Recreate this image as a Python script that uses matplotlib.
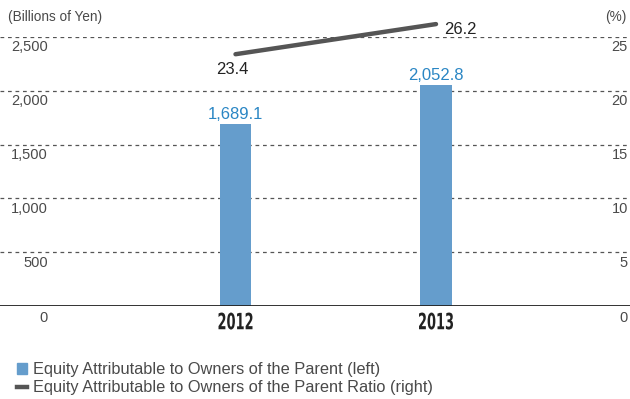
import matplotlib.pyplot as plt
from matplotlib.transforms import blended_transform_factory, Affine2D
from matplotlib.lines import Line2D
from matplotlib.patches import Patch, PathPatch
from matplotlib.textpath import TextPath
from matplotlib.font_manager import FontProperties

plt.rcParams['font.family'] = ['Liberation Sans', 'DejaVu Sans']

# data
years = ['2012', '2013']
equity = [1689.1, 2052.8]
ratio = [23.4, 26.2]
left_ticks = [500, 1000, 1500, 2000, 2500]
right_ticks = [5, 10, 15, 20, 25]

bar_color = '#659dcc'
label_blue = '#2a86c4'
line_color = '#555555'
text_gray = '#4a4a4a'

fig = plt.figure(figsize=(6.3, 3.99), dpi=100)
ax = fig.add_axes([0, 93 / 399, 1, 269 / 399])
ax2 = ax.twinx()

x = list(range(len(years)))
ax.set_xlim(-1.1746, 1.9676)
ax.set_ylim(0, 2500)
ax2.set_ylim(0, 25)

for a in (ax, ax2):
    for s in a.spines.values():
        s.set_visible(False)
    a.set_xticks([])
    a.set_yticks([])

bars = ax.bar(x, equity, width=0.155, color=bar_color, zorder=2)

# gridlines
for v in left_ticks:
    ax.axhline(v, color='#555555', lw=0.9, ls=(0, (3, 3)), zorder=1)
ax.axhline(0, color='#222222', lw=1.3, zorder=3)

# tick labels
tl = blended_transform_factory(ax.transAxes, ax.transData)
for v in [0] + left_ticks:
    off = -9 if v == 0 else -7.5
    ax.annotate(f'{v:,}', xy=(48 / 630, v), xycoords=tl, xytext=(0, off),
                textcoords='offset points', ha='right', va='center',
                fontsize=10.5, color=text_gray)
tr = blended_transform_factory(ax2.transAxes, ax2.transData)
for v in [0] + right_ticks:
    off = -9 if v == 0 else -7.5
    ax2.annotate(f'{v}', xy=(628 / 630, v), xycoords=tr, xytext=(0, off),
                 textcoords='offset points', ha='right', va='center',
                 fontsize=10.5, color=text_gray)

fig.text(8 / 630, 1 - 17 / 399, '(Billions of Yen)', ha='left', va='center',
         fontsize=9.8, color=text_gray)
fig.text(626 / 630, 1 - 17 / 399, '(%)', ha='right', va='center',
         fontsize=9.8, color=text_gray)

# year labels: bold, squeezed horizontally to look condensed
tx = blended_transform_factory(ax.transData, ax.transAxes)
fp = FontProperties(family='DejaVu Sans', weight='bold')
for xi, yr in zip(x, years):
    tp = TextPath((0, 0), yr, size=20, prop=fp)
    bb = tp.get_extents()
    px, py = tx.transform((xi, -0.056))
    t = (Affine2D().translate(-bb.x0 - bb.width / 2, -bb.y0 - bb.height / 2)
         .scale(34 / bb.width, 17 / bb.height).translate(px, py))
    ax.add_patch(PathPatch(tp, transform=t, color='#222222', lw=0, clip_on=False))

# bar value labels
for xi, v in zip(x, equity):
    ax.annotate(f'{v:,.1f}', xy=(xi, v), xytext=(0, 1.5), textcoords='offset points',
                ha='center', va='bottom', fontsize=12, color=label_blue)

# ratio line
ln, = ax2.plot(x, ratio, color=line_color, lw=3.2, solid_capstyle='round',
               zorder=4, clip_on=False)
ax2.annotate(f'{ratio[0]}', xy=(x[0], ratio[0]), xytext=(-2.5, -11),
             textcoords='offset points', ha='center', va='center',
             fontsize=12, color='#222222', annotation_clip=False)
ax2.annotate(f'{ratio[1]}', xy=(x[1], ratio[1]), xytext=(6, -4),
             textcoords='offset points', ha='left', va='center',
             fontsize=12, color='#222222', annotation_clip=False)

handles = [Patch(color=bar_color),
           Line2D([0], [0], color=line_color, lw=3.2)]
labels = ['Equity Attributable to Owners of the Parent (left)',
          'Equity Attributable to Owners of the Parent Ratio (right)']
fig.legend(handles, labels, loc='upper left', bbox_to_anchor=(17 / 630, 1 - 362 / 399),
           frameon=False, fontsize=11.8, handlelength=0.62, handleheight=0.62,
           handletextpad=0.35, labelspacing=0.2, borderpad=0, borderaxespad=0,
           labelcolor=text_gray)

fig.savefig('out.png', dpi=100)
